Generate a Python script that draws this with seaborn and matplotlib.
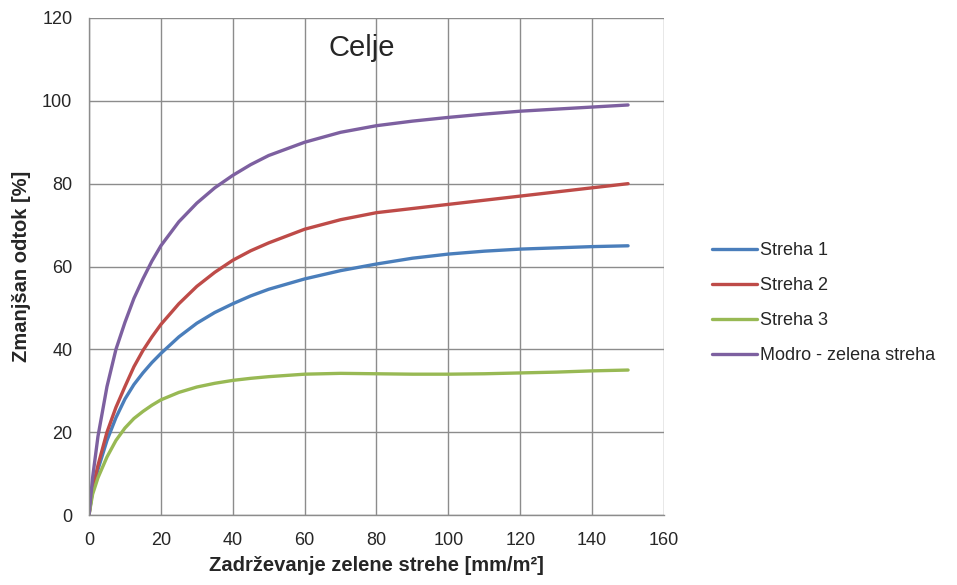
import pandas as pd
import numpy as np
import matplotlib
matplotlib.use("Agg")
import matplotlib.pyplot as plt
import seaborn as sns

# --- data ---
x_vals = [0, 1, 2.5, 5, 7.5, 10, 12.5, 15, 17.5, 20, 25, 30, 35, 40, 45, 50, 60, 70, 80, 90, 100, 110, 120, 130, 140, 150]
streha1 = [0, 6, 11, 18, 23.5, 28, 31.5, 34.3, 36.8, 39, 43, 46.3, 48.9, 51, 52.9, 54.5, 57, 59, 60.6, 62, 63, 63.7, 64.2, 64.5, 64.8, 65]
streha2 = [0, 6.5, 12, 20, 26, 31, 35.8, 39.7, 43, 46, 51, 55.2, 58.6, 61.5, 63.8, 65.7, 69, 71.3, 73, 74, 75, 76, 77, 78, 79, 80]
streha3 = [0, 5, 9, 14, 18, 21, 23.3, 25, 26.5, 27.8, 29.6, 30.9, 31.8, 32.5, 33, 33.4, 34, 34.2, 34.1, 34, 34, 34.1, 34.3, 34.5, 34.8, 35]
modro = [0, 9, 19, 31, 40, 46.5, 52.3, 57, 61.3, 65, 70.8, 75.3, 79, 82, 84.6, 86.8, 90, 92.4, 94, 95.1, 96, 96.8, 97.5, 98, 98.5, 99]

series_names = ["Streha 1", "Streha 2", "Streha 3", "Modro - zelena streha"]
colors = ["#4A7EBB", "#BE4B48", "#98B954", "#7D60A0"]

rows = []
for name, vals in zip(series_names, [streha1, streha2, streha3, modro]):
    for xv, yv in zip(x_vals, vals):
        rows.append({"x": xv, "y": yv, "serija": name})
df = pd.DataFrame(rows)

sns.set_style("white")
plt.rcParams['font.family'] = ['Liberation Sans', 'DejaVu Sans']

fig = plt.figure(figsize=(9.57, 5.85), dpi=100)
ax = fig.add_axes([89/957, 1 - 515/585, (664 - 89)/957, (515 - 18)/585])

sns.lineplot(data=df, x="x", y="y", hue="serija", hue_order=series_names,
             palette=colors, linewidth=2.4, ax=ax, sort=False)

ax.set_xlim(0, 160)
ax.set_ylim(0, 120)
ax.set_xticks(range(0, 161, 20))
ax.set_yticks(range(0, 121, 20))
ax.grid(True, color="#8c8c8c", linewidth=1)
ax.set_axisbelow(True)
for s in ["top", "right"]:
    ax.spines[s].set_visible(False)
for s in ["left", "bottom"]:
    ax.spines[s].set_color("#8c8c8c")
    ax.spines[s].set_linewidth(1)
ax.tick_params(axis="both", which="both", direction="out", length=5, width=1,
               color="#8c8c8c", labelsize=13, pad=7)

ax.set_xlabel("Zadrževanje zelene strehe [mm/m²]", fontsize=14.5, fontweight="bold", labelpad=5)
ax.set_ylabel("Zmanjšan odtok [%]", fontsize=14.5, fontweight="bold", labelpad=8)

ax.text(0.475, 0.94, "Celje", transform=ax.transAxes, ha="center", va="center", fontsize=21)

ax.legend(loc="upper left", bbox_to_anchor=(705/957, 1 - 235/585), bbox_transform=fig.transFigure,
          frameon=False, fontsize=13, handlelength=2.5, handletextpad=0.15, labelspacing=1.0,
          borderaxespad=0)

fig.savefig("out.png", dpi=100)
